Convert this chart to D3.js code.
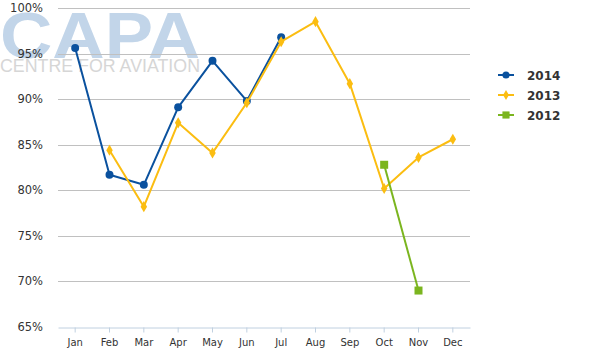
<!DOCTYPE html>
<html>
<head>
<meta charset="utf-8">
<script src="https://cdn.jsdelivr.net/npm/d3@7"></script>
<style>
  body { margin: 0; background: #fff; }
  text { font-family: "DejaVu Sans", sans-serif; }
</style>
</head>
<body>
<div id="chart"></div>
<script>
let months = ['Jan', 'Feb', 'Mar', 'Apr', 'May', 'Jun', 'Jul', 'Aug', 'Sep', 'Oct', 'Nov', 'Dec'];
let yTicks = [65, 70, 75, 80, 85, 90, 95, 100];

let s2014 = [95.6, 81.7, 80.6, 89.1, 94.2, 89.8, 96.8, null, null, null, null, null];
let s2013 = [null, 84.4, 78.2, 87.4, 84.1, 89.6, 96.3, 98.5, 91.7, 80.2, 83.6, 85.6];
let s2012 = [null, null, null, null, null, null, null, null, null, 82.8, 69.0, null];

let width = 600;
let height = 352;
let margin = {top: 8, right: 130, bottom: 25, left: 58};

let series = [
  {name: '2014', values: s2014, color: '#0a519e', shape: d3.symbolCircle, size: 50},
  {name: '2013', values: s2013, color: '#fbbd11', shape: d3.symbolDiamond, size: 36},
  {name: '2012', values: s2012, color: '#7bb51f', shape: d3.symbolSquare, size: 64}
];

let x = d3.scaleBand()
  .domain(months)
  .range([margin.left, width - margin.right]);

let y = d3.scaleLinear()
  .domain([65, 100])
  .range([height - margin.bottom, margin.top]);

const svg = d3.select('#chart').append('svg')
  .attr('width', width)
  .attr('height', height);

// watermark
svg.append('text')
  .attr('x', 0).attr('y', 58)
  .attr('textLength', 200)
  .attr('lengthAdjust', 'spacingAndGlyphs')
  .style('font-family', '"Liberation Sans", Arial, sans-serif')
  .style('font-weight', 'bold')
  .style('font-size', '64px')
  .attr('fill', '#c2d5e9')
  .text('CAPA');

svg.append('text')
  .attr('x', 0).attr('y', 72)
  .attr('textLength', 200)
  .attr('lengthAdjust', 'spacingAndGlyphs')
  .style('font-family', '"Liberation Sans", Arial, sans-serif')
  .style('font-size', '19px')
  .attr('fill', '#d6d6d6')
  .text('CENTRE FOR AVIATION');

// grid
svg.append('g')
  .selectAll('line')
  .data(yTicks.slice(1))
  .join('line')
  .attr('x1', margin.left)
  .attr('x2', width - margin.right)
  .attr('y1', d => Math.round(y(d)) + 0.5)
  .attr('y2', d => Math.round(y(d)) + 0.5)
  .attr('stroke', '#c0c0c0');

// y labels
svg.append('g')
  .selectAll('text')
  .data(yTicks)
  .join('text')
  .attr('x', 43)
  .attr('y', d => y(d) + 4)
  .attr('text-anchor', 'end')
  .attr('font-size', 11.5)
  .attr('fill', '#333')
  .text(d => d + '%');

// x axis
let xAxis = g => g
  .attr('transform', `translate(0, ${Math.round(y(65)) + 0.5})`)
  .call(d3.axisBottom(x).tickSize(5).tickSizeOuter(0))
  .call(g => g.selectAll('.domain, line').attr('stroke', '#c0d0e0'))
  .call(g => g.selectAll('text').attr('fill', '#333').attr('font-size', 10).attr('dy', '1.05em')
    .style('font-family', '"DejaVu Sans", sans-serif'));

svg.append('g').call(xAxis);

let cx = i => x(months[i]) + x.bandwidth() / 2;

let line = d3.line()
  .defined(d => d != null)
  .x((d, i) => cx(i))
  .y(d => y(d));

series.forEach(s => {
  svg.append('path')
    .datum(s.values)
    .attr('fill', 'none')
    .attr('stroke', s.color)
    .attr('stroke-width', 2)
    .attr('stroke-linejoin', 'round')
    .attr('d', line);

  svg.append('g')
    .selectAll('path')
    .data(s.values.map((v, i) => ({v, i})).filter(d => d.v != null))
    .join('path')
    .attr('transform', d => `translate(${cx(d.i)}, ${y(d.v)})`)
    .attr('d', d3.symbol().type(s.shape).size(s.size))
    .attr('fill', s.color);
});

// legend
let legend = svg.append('g')
  .selectAll('g')
  .data(series)
  .join('g')
  .attr('transform', (d, i) => `translate(498, ${75 + i * 20})`);

legend.append('line')
  .attr('x1', 0).attr('x2', 16)
  .attr('stroke', d => d.color)
  .attr('stroke-width', 2);

legend.append('path')
  .attr('transform', 'translate(8, 0)')
  .attr('d', d => d3.symbol().type(d.shape).size(d.size * 0.8)())
  .attr('fill', d => d.color);

legend.append('text')
  .attr('x', 29)
  .attr('y', 4.5)
  .attr('font-size', 12)
  .attr('font-weight', 'bold')
  .attr('fill', '#333')
  .text(d => d.name);
</script>
</body>
</html>
